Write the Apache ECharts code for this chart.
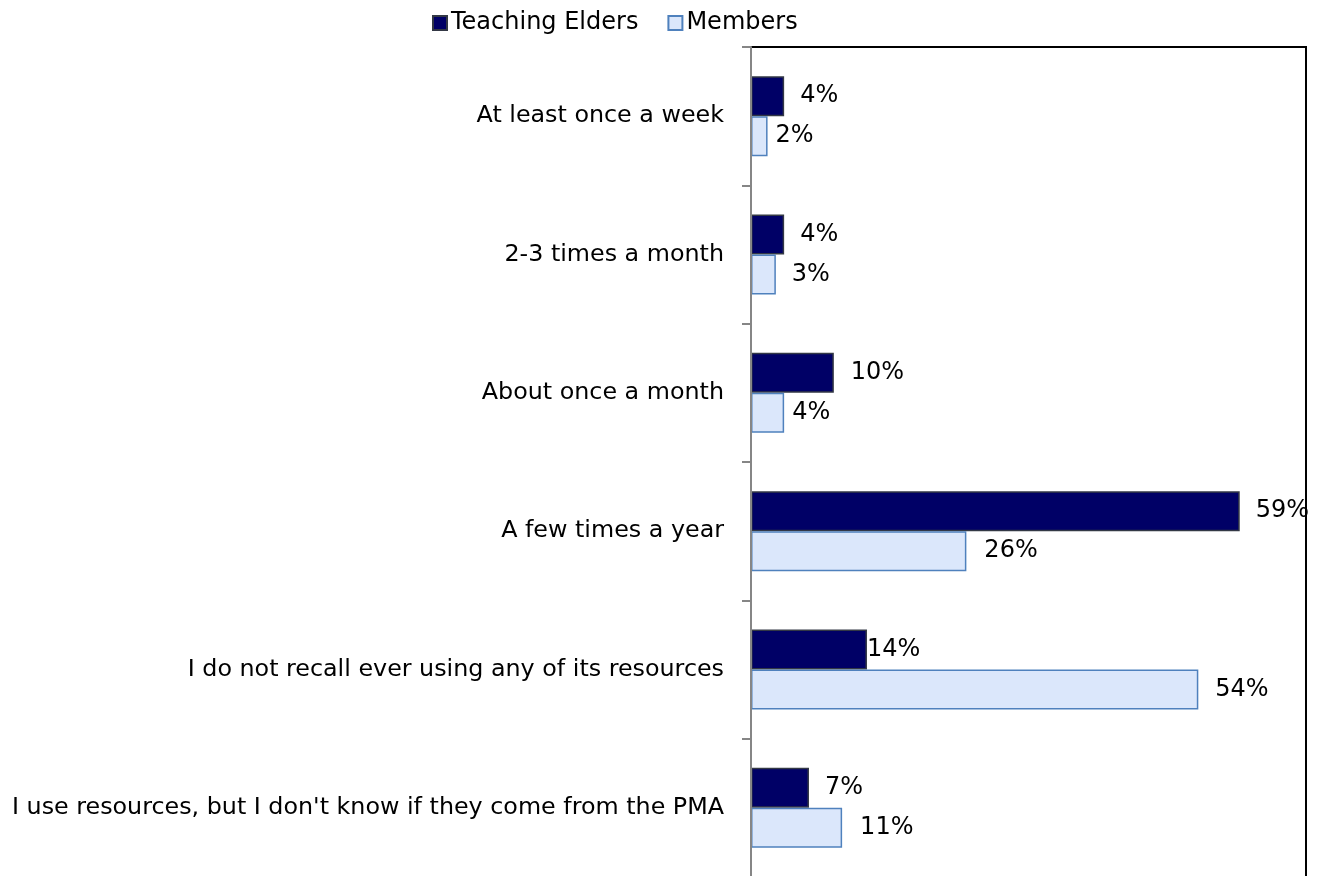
<!DOCTYPE html>
<html>
<head>
<meta charset="utf-8">
<title>Frequency of using PMA resources</title>
<script src="https://cdn.jsdelivr.net/npm/echarts@6/dist/echarts.min.js"></script>
<style>
  html, body { margin: 0; padding: 0; background: #fff; }
  #chart { width: 1317px; height: 876px; }
</style>
</head>
<body>
<div id="chart"></div>
<script>
// Response categories, top to bottom
const categories = [
  'At least once a week',
  '2-3 times a month',
  'About once a month',
  'A few times a year',
  'I do not recall ever using any of its resources',
  "I use resources, but I don't know if they come from the PMA"
];

// Share of respondents (%)
const teachingElders = [4, 4, 10, 59, 14, 7];
const members = [2, 3, 4, 26, 54, 11];

// Gap between bar end and its value label (px)
const elderLabelGap = [16, 16, 17, 16, 0, 16];
const memberLabelGap = [8, 16, 8, 18, 17, 18];

const FONT = '"DejaVu Sans", Verdana, sans-serif';

function withLabels(values, gaps) {
  return values.map((v, i) => ({
    value: v,
    label: { distance: gaps[i] }
  }));
}

const chart = echarts.init(document.getElementById('chart'), null, { renderer: 'canvas' });

const valueLabel = {
  show: true,
  position: 'right',
  formatter: '{c}%',
  fontFamily: FONT,
  fontSize: 24,
  color: '#000'
};

chart.setOption({
  animation: false,
  textStyle: { fontFamily: FONT },
  legend: {
    left: 432,
    top: 11,
    padding: 0,
    itemWidth: 14,
    itemHeight: 14,
    itemGap: 29,
    icon: 'rect',
    textStyle: { fontFamily: FONT, fontSize: 24, color: '#000', padding: [0, 0, 0, -1] },
    data: ['Teaching Elders', 'Members']
  },
  grid: {
    left: 751,
    top: 47,
    width: 555,
    height: 830,
    outerBoundsMode: 'none',
    containLabel: false,
    show: true,
    borderColor: '#000',
    borderWidth: 2,
    backgroundColor: 'transparent'
  },
  xAxis: {
    type: 'value',
    min: 0,
    max: 67,
    show: false,
    splitLine: { show: false }
  },
  yAxis: {
    type: 'category',
    inverse: true,
    data: categories,
    axisLine: { show: true, lineStyle: { color: '#868686', width: 2 } },
    axisTick: { show: true, length: 9, lineStyle: { color: '#868686', width: 2 } },
    axisLabel: {
      margin: 27,
      fontFamily: FONT,
      fontSize: 23.8,
      color: '#000'
    },
    z: 5
  },
  series: [
    {
      name: 'Teaching Elders',
      type: 'bar',
      barWidth: 40,
      barGap: '0%',
      data: withLabels(teachingElders, elderLabelGap),
      itemStyle: { color: '#000066', borderColor: '#333845', borderWidth: 1.5 },
      label: valueLabel
    },
    {
      name: 'Members',
      type: 'bar',
      barWidth: 40,
      barGap: '0%',
      data: withLabels(members, memberLabelGap),
      itemStyle: { color: '#DBE7FB', borderColor: '#4F81BD', borderWidth: 1.5 },
      label: valueLabel
    }
  ]
});
</script>
</body>
</html>
